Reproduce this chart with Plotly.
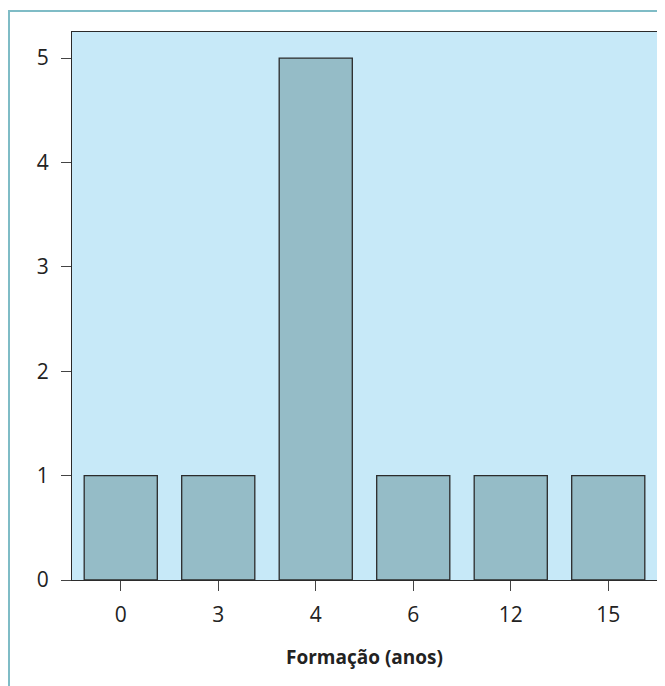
import plotly.graph_objects as go

categories = ["0", "3", "4", "6", "12", "15"]
counts = [1, 1, 5, 1, 1, 1]
y_ticks = [0, 1, 2, 3, 4, 5]
x_title = "Formação (anos)"

# page body has an 8px default margin, so the figure is sized/offset to compensate
W, H = 657, 678
L, R, T, B = 64, 8, 24, 106
pw, ph = W - L - R, H - T - B

fig = go.Figure(go.Bar(
    x=categories, y=counts,
    marker=dict(color="#95bcc7", line=dict(color="#2b2b2b", width=1.3)),
    width=0.75,
))

fig.update_layout(
    width=W, height=H,
    margin=dict(l=L, r=R, t=T, b=B),
    paper_bgcolor="white",
    plot_bgcolor="#c7e9f8",
    font=dict(family="Open Sans, DejaVu Sans, sans-serif", size=21, color="#222"),
    showlegend=False,
    shapes=[dict(type="rect", xref="paper", yref="paper",
                 x0=(1 - L) / pw, x1=1.3,
                 y0=-0.5, y1=1 + (T - 3) / ph,
                 line=dict(color="#7fbcc6", width=2), fillcolor="rgba(0,0,0,0)", layer="below")],
)
fig.update_xaxes(
    type="category", range=[-0.5, 5.5],
    showline=True, linecolor="#2b2b2b", linewidth=1.3, mirror=True,
    ticks="outside", ticklen=10, tickcolor="#444", tickwidth=1.3,
    ticklabelstandoff=6,
    showgrid=False, zeroline=False,
    title=dict(text="<b>" + x_title + "</b>", font=dict(size=19), standoff=23),
)
fig.update_yaxes(
    range=[0, 5.25], tickvals=y_ticks,
    showline=True, linecolor="#2b2b2b", linewidth=1.3, mirror=True,
    ticks="outside", ticklen=10, tickcolor="#444", tickwidth=1.3,
    ticklabelstandoff=8,
    showgrid=False, zeroline=False,
)
fig.write_html("out.html")
